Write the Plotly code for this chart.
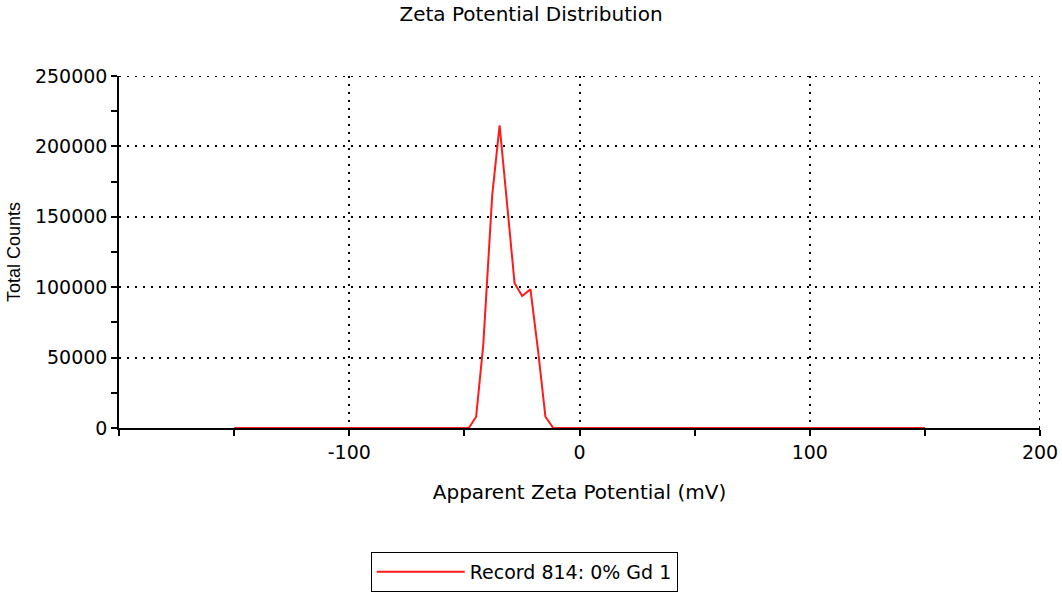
import plotly.graph_objects as go

# Data
zeta_mv = [-150, -48.1, -44.9, -41.8, -37.9, -34.7, -31.5, -28.2, -24.9, -21.3, -18.0, -14.8, -11.4, 150]
total_counts = [0, 0, 8000, 59000, 165500, 215000, 160000, 102800, 93800, 98500, 55000, 8000, 0, 0]
series_name = "Record 814: 0% Gd 1"
x_tick_vals = [-100, 0, 100, 200]
y_tick_vals = [0, 50000, 100000, 150000, 200000, 250000]
x_range = [-200, 200]
y_range = [0, 250000]

FONT = "DejaVu Sans, Liberation Sans, Arial, sans-serif"
FONT_V = "Liberation Sans, Arial, sans-serif"
GRID_DASH = "2px,6px"

fig = go.Figure()
fig.add_trace(go.Scatter(
    x=zeta_mv, y=total_counts, mode="lines", name=series_name,
    line=dict(color="#ff1a1a", width=2),
))

grid_style = dict(showgrid=True, gridcolor="black", gridwidth=2, griddash=GRID_DASH)

# grid lines lying on the plot edges (plotly drops those automatically)
fig.add_shape(type="line", xref="paper", x0=0, x1=1, yref="y", y0=y_tick_vals[-1], y1=y_tick_vals[-1],
              line=dict(color="black", width=2, dash=GRID_DASH), layer="below")
fig.add_shape(type="line", yref="paper", y0=0, y1=1, xref="x", x0=x_tick_vals[-1], x1=x_tick_vals[-1],
              line=dict(color="black", width=2, dash=GRID_DASH), layer="below")

fig.update_layout(
    width=1062, height=592,
    paper_bgcolor="white", plot_bgcolor="white",
    margin=dict(l=119, r=22, t=76, b=164, autoexpand=False),
    font=dict(family=FONT, color="black", size=19),
    title=dict(text="Zeta Potential Distribution", x=0.5, xanchor="center",
               y=0.976, yanchor="middle", font=dict(size=20, family=FONT)),
    showlegend=True,
    legend=dict(orientation="h", x=0.44, xanchor="center", y=-0.352, yanchor="top",
                bordercolor="black", borderwidth=1, bgcolor="white",
                itemwidth=88, font=dict(size=19, family=FONT)),
    xaxis=dict(
        range=x_range, tickvals=x_tick_vals, ticktext=[str(v) for v in x_tick_vals],
        showline=True, linecolor="black", linewidth=1.5, layer="below traces",
        ticks="outside", ticklen=6, tickcolor="black", tickwidth=1.5,
        minor=dict(dtick=50, tick0=0, ticks="outside", ticklen=6, tickcolor="black", showgrid=False),
        zeroline=False, tickfont=dict(size=19),
        title=dict(text="Apparent Zeta Potential (mV)", standoff=23, font=dict(size=20)),
        **grid_style,
    ),
    yaxis=dict(
        range=y_range, tickvals=y_tick_vals, ticktext=[str(v) for v in y_tick_vals],
        showline=True, linecolor="black", linewidth=1.5, layer="below traces",
        ticks="outside", ticklen=6, tickcolor="black", tickwidth=1.5,
        minor=dict(dtick=25000, tick0=0, ticks="outside", ticklen=6, tickcolor="black", showgrid=False),
        zeroline=False, tickfont=dict(size=19),
        title=dict(text="Total Counts", standoff=10, font=dict(size=18, family=FONT_V)),
        **grid_style,
    ),
)

fig.write_html("out.html", config={"displayModeBar": False},
               post_script="document.body.style.margin='0';")
